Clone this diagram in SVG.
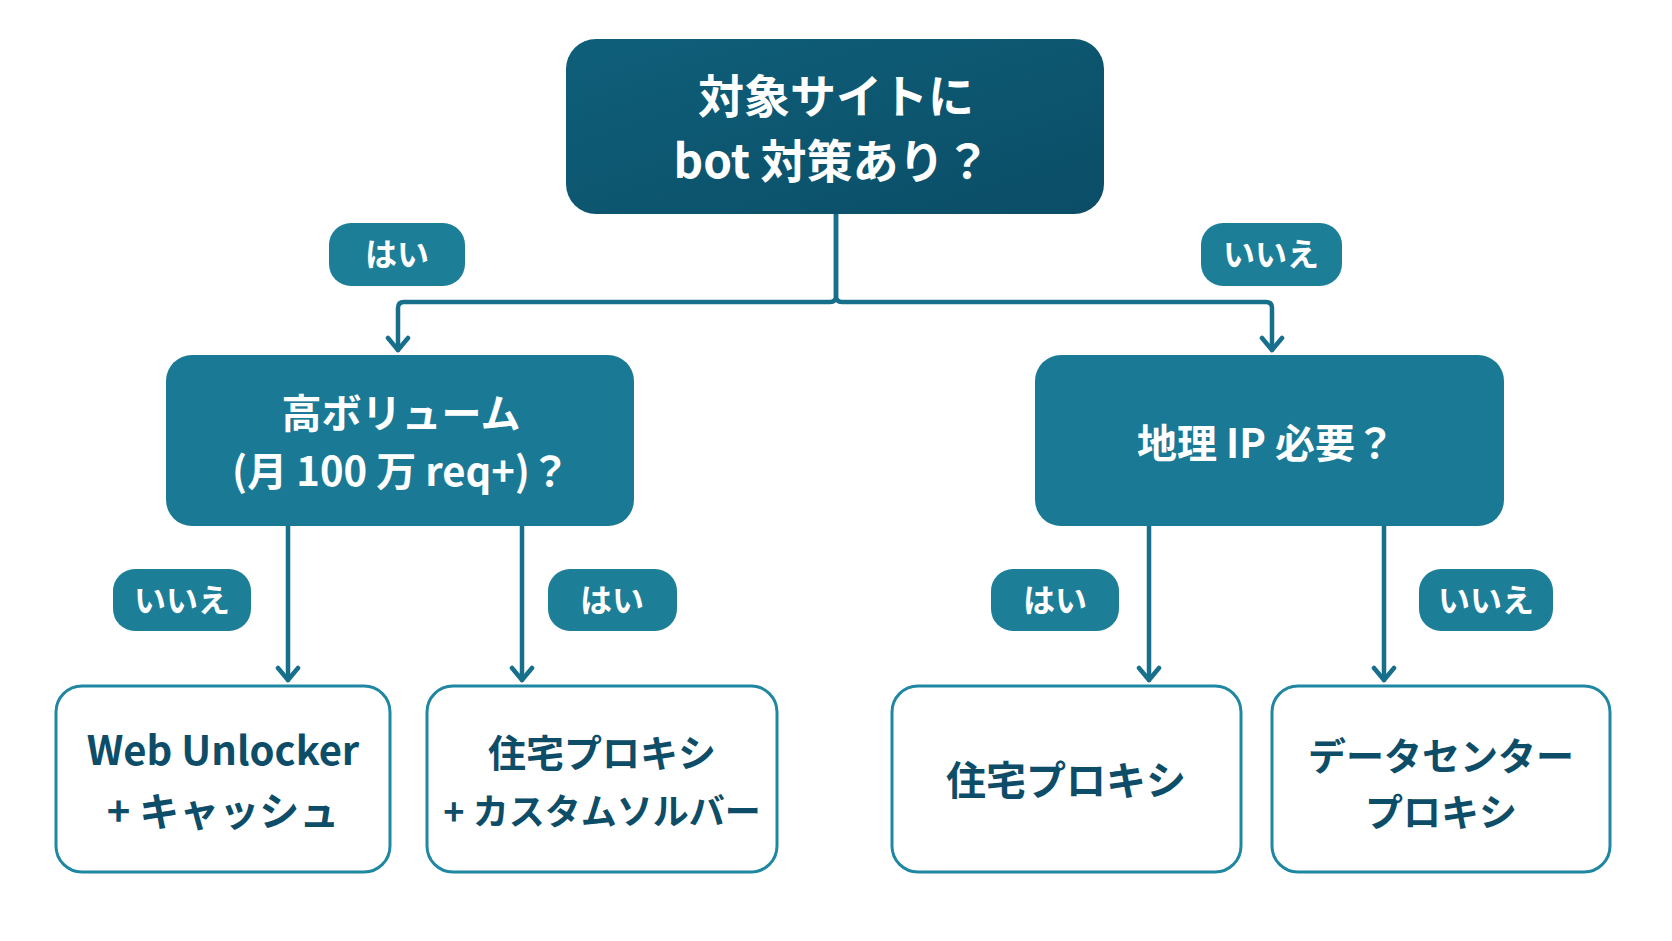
<svg xmlns="http://www.w3.org/2000/svg" width="1672" height="941" viewBox="0 0 1672 941">
<defs>
<linearGradient id="gr" x1="0" y1="0" x2="1" y2="1"><stop offset="0" stop-color="#0f5f7a"/><stop offset="1" stop-color="#0b4d66"/></linearGradient>
<style>
text{font-family:"Noto Sans CJK JP","Noto Sans",sans-serif;font-weight:bold;text-anchor:middle}
.w{fill:#fff}
.d{fill:#0d4d68}
.lab{fill:#1d7e98}
.mid{fill:#1a7a95}
.leaf{fill:#fff;stroke:#1f87a1;stroke-width:3}
.c{fill:none;stroke:#17708b;stroke-width:4.5;stroke-linecap:round;stroke-linejoin:round}
</style>
</defs>
<rect width="1672" height="941" fill="#fff"/>
<g id="connectors">
<path class="c" d="M836,214 V296 Q836,302 830,302 H404 Q398,302 398,308 V350"/>
<path class="c" d="M836,214 V296 Q836,302 842,302 H1266 Q1272,302 1272,308 V350"/>
<path class="c" d="M288,526 V680"/>
<path class="c" d="M522,526 V680"/>
<path class="c" d="M1149,526 V680"/>
<path class="c" d="M1384,526 V680"/>
<path class="c" d="M388,338 L398,350 L408,338 M1262,338 L1272,350 L1282,338 M278,668 L288,680 L298,668 M512,668 L522,680 L532,668 M1139,668 L1149,680 L1159,668 M1374,668 L1384,680 L1394,668"/>
</g>
<g id="root"><rect x="566" y="39" width="538" height="175" rx="30" fill="url(#gr)"/>
<text class="w" x="836" y="113" font-size="46">対象サイトに</text><text class="w" x="832" y="178" font-size="46">bot 対策あり？</text></g>
<g id="lab1"><rect class="lab" x="329" y="223" width="136" height="63" rx="22"/><text class="w" x="397" y="266" font-size="32">はい</text></g>
<g id="lab2"><rect class="lab" x="1201" y="223" width="141" height="63" rx="22"/><text class="w" x="1271" y="266" font-size="32">いいえ</text></g>
<g id="vol"><rect class="mid" x="166" y="355" width="468" height="171" rx="26"/>
<text class="w" x="401" y="428" font-size="40">高ボリューム</text><text class="w" x="401" y="486" font-size="40">(月 100 万 req+)？</text></g>
<g id="geo"><rect class="mid" x="1035" y="355" width="469" height="171" rx="26"/>
<text class="w" x="1266" y="458" font-size="40">地理 IP 必要？</text></g>
<g id="lab3"><rect class="lab" x="113" y="569" width="138" height="62" rx="22"/><text class="w" x="182" y="612" font-size="32">いいえ</text></g>
<g id="lab4"><rect class="lab" x="548" y="569" width="129" height="62" rx="22"/><text class="w" x="612" y="612" font-size="32">はい</text></g>
<g id="lab5"><rect class="lab" x="991" y="569" width="128" height="62" rx="22"/><text class="w" x="1055" y="612" font-size="32">はい</text></g>
<g id="lab6"><rect class="lab" x="1419" y="569" width="134" height="62" rx="22"/><text class="w" x="1486" y="612" font-size="32">いいえ</text></g>
<g id="leaf1"><rect class="leaf" x="56" y="686" width="334" height="186" rx="26"/>
<text class="d" x="223" y="765" font-size="40">Web Unlocker</text><text class="d" x="223" y="826" font-size="40">+ キャッシュ</text></g>
<g id="leaf2"><rect class="leaf" x="427" y="686" width="350" height="186" rx="26"/>
<text class="d" x="602" y="767" font-size="38">住宅プロキシ</text><text class="d" x="602" y="825" font-size="36">+ カスタムソルバー</text></g>
<g id="leaf3"><rect class="leaf" x="892" y="686" width="349" height="186" rx="26"/>
<text class="d" x="1066" y="795" font-size="40">住宅プロキシ</text></g>
<g id="leaf4"><rect class="leaf" x="1272" y="686" width="338" height="186" rx="26"/>
<text class="d" x="1441" y="770" font-size="38">データセンター</text><text class="d" x="1441" y="826" font-size="38">プロキシ</text></g>
</svg>
